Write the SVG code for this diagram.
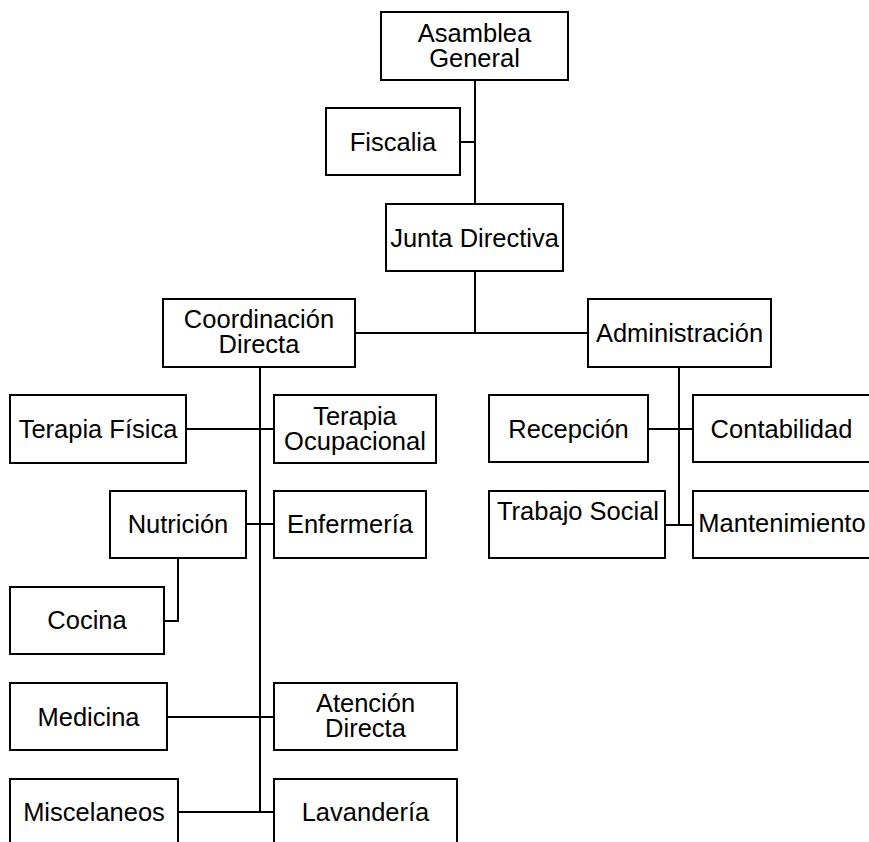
<svg xmlns="http://www.w3.org/2000/svg" width="869" height="842" viewBox="0 0 869 842">
<style>
.box{fill:#fff;stroke:#000;stroke-width:2}
.t{font-family:"Liberation Sans",Arial,Helvetica,sans-serif;font-size:25.5px;fill:#000;text-anchor:middle}
.c{fill:none;stroke:#000;stroke-width:2}
</style>
<rect width="869" height="842" fill="#fff"/>
<g id="connectors">
<path class="c" d="M475 80V204M460 142H475M475 271V333M355 333H588"/>
<path class="c" d="M260 367V812M186 429H274M246 524H274M178 558V621H164M167 717H274M178 812H274"/>
<path class="c" d="M679 367V525M648 429H693M665 525H693"/>
</g>
<g id="asamblea"><rect class="box" x="381" y="12" width="187" height="68"/><text class="t"><tspan x="474.5" y="42">Asamblea</tspan><tspan x="474.5" y="67">General</tspan></text></g>
<g id="fiscalia"><rect class="box" x="326" y="108" width="134" height="67"/><text class="t" x="393" y="150.5">Fiscalia</text></g>
<g id="junta"><rect class="box" x="386" y="204" width="177" height="67"/><text class="t" x="474.5" y="246.5">Junta Directiva</text></g>
<g id="coordinacion"><rect class="box" x="163" y="299" width="192" height="68"/><text class="t"><tspan x="259" y="328">Coordinación</tspan><tspan x="259" y="353">Directa</tspan></text></g>
<g id="administracion"><rect class="box" x="588" y="299" width="183" height="68"/><text class="t" x="679.5" y="342">Administración</text></g>
<g id="terapia-fisica"><rect class="box" x="10" y="395" width="176" height="68"/><text class="t" x="98" y="438">Terapia Física</text></g>
<g id="terapia-ocupacional"><rect class="box" x="274" y="395" width="162" height="68"/><text class="t"><tspan x="355" y="424.5">Terapia</tspan><tspan x="355" y="449.5">Ocupacional</tspan></text></g>
<g id="recepcion"><rect class="box" x="489" y="395" width="159" height="67"/><text class="t" x="568.5" y="438">Recepción</text></g>
<g id="contabilidad"><rect class="box" x="693" y="395" width="177" height="67"/><text class="t" x="781.5" y="438">Contabilidad</text></g>
<g id="nutricion"><rect class="box" x="110" y="491" width="136" height="67"/><text class="t" x="178" y="533">Nutrición</text></g>
<g id="enfermeria"><rect class="box" x="274" y="491" width="152" height="67"/><text class="t" x="350" y="533">Enfermería</text></g>
<g id="trabajo-social"><rect class="box" x="489" y="491" width="176" height="67"/><text class="t" x="578" y="520">Trabajo Social</text></g>
<g id="mantenimiento"><rect class="box" x="693" y="491" width="177" height="67"/><text class="t" x="782" y="532">Mantenimiento</text></g>
<g id="cocina"><rect class="box" x="10" y="587" width="154" height="67"/><text class="t" x="87" y="629">Cocina</text></g>
<g id="medicina"><rect class="box" x="10" y="683" width="157" height="67"/><text class="t" x="88.5" y="725.5">Medicina</text></g>
<g id="atencion"><rect class="box" x="274" y="683" width="183" height="67"/><text class="t"><tspan x="365.5" y="712">Atención</tspan><tspan x="365.5" y="737">Directa</tspan></text></g>
<g id="miscelaneos"><rect class="box" x="10" y="779" width="168" height="67"/><text class="t" x="94" y="820.5">Miscelaneos</text></g>
<g id="lavanderia"><rect class="box" x="274" y="779" width="183" height="67"/><text class="t" x="365.5" y="820.5">Lavandería</text></g>
</svg>
